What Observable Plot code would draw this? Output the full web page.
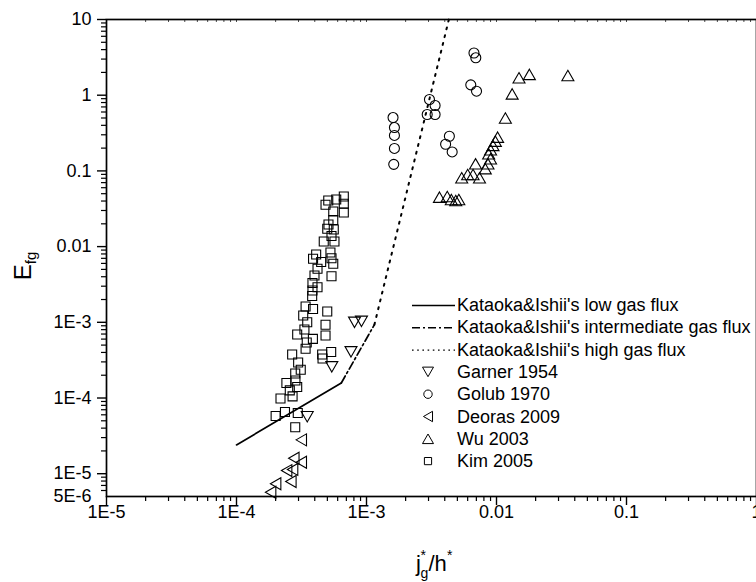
<!DOCTYPE html>
<html>
<head>
<meta charset="utf-8">
<script src="https://cdn.jsdelivr.net/npm/d3@7"></script>
<script src="https://cdn.jsdelivr.net/npm/@observablehq/plot@0.6"></script>
<style>
  html, body { margin: 0; padding: 0; background: #fff; }
  #chart { width: 756px; height: 582px; }
</style>
</head>
<body>
<div id="chart"></div>
<script>
// ---- Data ----
const garnerX = [8.09e-4, 9.15e-4, 7.6e-4, 5.41e-4, 3.50e-4];
const garnerY = [1.0e-3, 1.03e-3, 4.07e-4, 2.58e-4, 5.65e-5];

const golubX = [1.60e-3, 1.64e-3, 1.64e-3, 1.64e-3, 1.62e-3, 3.05e-3, 3.37e-3, 2.93e-3, 3.37e-3, 4.34e-3, 4.06e-3, 4.56e-3, 6.71e-3, 6.93e-3, 6.34e-3, 7.02e-3];
const golubY = [0.507, 0.374, 0.294, 0.198, 0.122, 0.877, 0.731, 0.556, 0.556, 0.287, 0.225, 0.178, 3.61, 3.12, 1.37, 1.13];

const deorasX = [3.15e-4, 2.76e-4, 3.15e-4, 2.43e-4, 2.70e-4, 2.62e-4, 2.0e-4, 1.83e-4];
const deorasY = [2.8e-5, 1.6e-5, 1.42e-5, 1.10e-5, 1.14e-5, 7.9e-6, 7.36e-6, 5.7e-6];

const wuX = [0.0354, 0.0179, 0.0149, 0.0132, 0.0117, 0.0102, 0.0098, 0.0094, 0.0090, 0.0087, 0.0090, 0.0086, 0.0082, 0.0069, 0.0060, 0.0054, 0.0066, 0.0074, 0.00364, 0.00418, 0.00449, 0.00486, 0.00513];
const wuY = [1.82, 1.88, 1.70, 1.04, 0.50, 0.279, 0.247, 0.217, 0.190, 0.168, 0.1445, 0.124, 0.107, 0.124, 0.0896, 0.0811, 0.0896, 0.0811, 0.045, 0.0459, 0.0419, 0.0406, 0.0419];

const kimX = [6.69e-4, 6.69e-4, 5.85e-4, 5.08e-4, 4.84e-4, 6.69e-4, 5.55e-4, 5.55e-4, 5.10e-4, 4.99e-4, 5.60e-4, 5.38e-4, 4.69e-4, 5.67e-4, 5.28e-4, 5.38e-4, 5.55e-4, 4.10e-4, 3.88e-4, 4.48e-4, 4.20e-4, 3.98e-4, 5.38e-4, 3.84e-4, 4.20e-4, 3.84e-4, 3.82e-4, 3.40e-4, 3.88e-4, 4.99e-4, 3.26e-4, 3.50e-4, 4.84e-4, 3.33e-4, 2.93e-4, 4.84e-4, 3.87e-4, 3.47e-4, 3.40e-4, 2.68e-4, 4.56e-4, 5.35e-4, 4.59e-4, 2.98e-4, 3.12e-4, 2.83e-4, 2.84e-4, 2.42e-4, 2.93e-4, 2.57e-4, 2.70e-4, 2.18e-4, 2.36e-4, 2.00e-4, 2.96e-4, 2.83e-4];
const kimY = [0.0459, 0.0368, 0.0419, 0.0406, 0.0357, 0.0282, 0.0291, 0.0225, 0.0196, 0.0172, 0.0168, 0.0138, 0.0117, 0.0117, 0.00836, 0.00703, 0.00593, 0.00787, 0.0069, 0.00626, 0.00509, 0.00415, 0.00406, 0.00331, 0.00291, 0.00263, 0.00223, 0.00162, 0.0015, 0.00139, 0.00123, 0.001, 9.27e-4, 8.03e-4, 6.90e-4, 6.69e-4, 6.05e-4, 5.41e-4, 4.47e-4, 3.75e-4, 3.75e-4, 4.05e-4, 3.33e-4, 2.94e-4, 2.36e-4, 2.11e-4, 1.70e-4, 1.58e-4, 1.40e-4, 1.26e-4, 1.05e-4, 9.85e-5, 6.53e-5, 5.78e-5, 6.34e-5, 4.11e-5];

// Kataoka & Ishii correlation segments (end points)
const lowX = [1e-4, 6.4e-4];   const lowY = [2.4e-5, 1.58e-4];
const midX = [6.4e-4, 1.15e-3]; const midY = [1.58e-4, 9.3e-4];
const highX = [1.15e-3, 4.3e-3]; const highY = [9.3e-4, 10];

// Axis ticks and labels
const xMajor = [1e-5, 1e-4, 1e-3, 1e-2, 1e-1, 1];
const xLabels = ["1E-5", "1E-4", "1E-3", "0.01", "0.1", "1"];
const yMajor = [1e-5, 1e-4, 1e-3, 1e-2, 1e-1, 1, 10];
const yLabels = ["1E-5", "1E-4", "1E-3", "0.01", "0.1", "1", "10"];
const yBottom = [5e-6];
const yBottomLabel = ["5E-6"];

const seriesNames = ["Kataoka&Ishii's low gas flux", "Kataoka&Ishii's intermediate gas flux", "Kataoka&Ishii's high gas flux", "Garner 1954", "Golub 1970", "Deoras 2009", "Wu 2003", "Kim 2005"];

// ---- Helpers ----
const FONT = "'Liberation Sans', Arial, Helvetica, sans-serif";
const zip = (xs, ys) => xs.map((x, i) => ({x, y: ys[i]}));
function sym(fn) { return {draw(ctx, size) { fn(ctx, Math.sqrt(size / Math.PI)); }}; }
const squareSym = sym((c, r) => { c.moveTo(-r, -r); c.lineTo(r, -r); c.lineTo(r, r); c.lineTo(-r, r); c.closePath(); });
const circleSym = sym((c, r) => { c.moveTo(r, 0); c.arc(0, 0, r, 0, 2 * Math.PI); c.closePath(); });
const upSym = sym((c, r) => { const h = r * 0.87; c.moveTo(0, -h); c.lineTo(r, h); c.lineTo(-r, h); c.closePath(); });
const downSym = sym((c, r) => { const h = r * 0.87; c.moveTo(0, h); c.lineTo(r, -h); c.lineTo(-r, -h); c.closePath(); });
const leftSym = sym((c, r) => { const h = r * 0.87; c.moveTo(-h, 0); c.lineTo(h, -r); c.lineTo(h, r); c.closePath(); });

const minor = (lo, hi) => {
  const out = [];
  for (let e = -6; e <= 1; e++) for (let m = 2; m <= 9; m++) {
    const v = m * Math.pow(10, e);
    if (v > lo * 1.0001 && v < hi * 0.9999) out.push(v);
  }
  return out;
};
const xMinor = minor(1e-5, 1);
const yMinor = minor(5e-6, 10);

const DASH_MID = "8,3,2,3";
const DASH_HIGH = "2,6";

const dotStyle = {x: "x", y: "y", stroke: "#000", fill: "none", strokeWidth: 1.1};
const frameH = 582 - 19 - 86;

const chart = Plot.plot({
  width: 756,
  height: 582,
  marginLeft: 106,
  marginRight: 0,
  marginTop: 19,
  marginBottom: 86,
  x: {type: "log", domain: [1e-5, 1]},
  y: {type: "log", domain: [5e-6, 10]},
  style: {fontFamily: FONT, fontSize: "18px", color: "#000", background: "#fff", overflow: "visible"},
  marks: [
    Plot.line(zip(lowX, lowY), {x: "x", y: "y", stroke: "#000", strokeWidth: 1.7}),
    Plot.line(zip(midX, midY), {x: "x", y: "y", stroke: "#000", strokeWidth: 1.7, strokeDasharray: DASH_MID}),
    Plot.line(zip(highX, highY), {x: "x", y: "y", stroke: "#000", strokeWidth: 2, strokeDasharray: DASH_HIGH}),
    Plot.dot(zip(garnerX, garnerY), {...dotStyle, symbol: downSym, r: 6}),
    Plot.dot(zip(golubX, golubY), {...dotStyle, symbol: circleSym, r: 5}),
    Plot.dot(zip(deorasX, deorasY), {...dotStyle, symbol: leftSym, r: 6}),
    Plot.dot(zip(wuX, wuY), {...dotStyle, symbol: upSym, r: 6}),
    Plot.dot(zip(kimX, kimY), {...dotStyle, symbol: squareSym, r: 4.5}),
    Plot.axisX({ticks: xMajor, tickFormat: d => xLabels[xMajor.indexOf(d)], tickSize: 9, tickPadding: 0, fontSize: 18, strokeWidth: 1.4, label: null}),
    Plot.axisX({ticks: xMinor, tickFormat: () => "", tickSize: 5, strokeWidth: 1.2, label: null}),
    Plot.tickX(xMajor.concat(xMinor), {x: d => d, insetBottom: frameH - 3, stroke: "#000", strokeWidth: 1, strokeOpacity: 0.7}),
    Plot.axisY({ticks: yMajor, tickFormat: d => yLabels[yMajor.indexOf(d)], tickSize: 9, tickPadding: 6, fontSize: 18, strokeWidth: 1.4, label: null}),
    Plot.axisY({ticks: yMinor, tickFormat: () => "", tickSize: 5, strokeWidth: 1.2, label: null}),
    Plot.text(yBottom, {y: d => d, text: (d, i) => yBottomLabel[i], frameAnchor: "left", dx: -15, textAnchor: "end", fontSize: 18, lineAnchor: "middle"}),
    Plot.frame({stroke: "#000", strokeWidth: 1.7})
  ]
});
document.getElementById("chart").appendChild(chart);

// ---- Axis titles with sub/superscripts ----
const svg = d3.select(chart);
const cx = (106 + 756) / 2 + 4;
const xt = svg.append("g").attr("font-family", FONT).attr("fill", "#000").attr("text-anchor", "start")
  .attr("transform", `translate(${cx},571)`);
xt.append("text").attr("x", -19).attr("font-size", 22).text("j");
xt.append("text").attr("x", -14.5).attr("y", -11).attr("font-size", 14).text("*");
xt.append("text").attr("x", -14.5).attr("y", 7).attr("font-size", 14).text("g");
xt.append("text").attr("x", -6.5).attr("font-size", 22).text("/h");
xt.append("text").attr("x", 12).attr("y", -11).attr("font-size", 14).text("*");

const yt = svg.append("text").attr("font-family", FONT).attr("fill", "#000")
  .attr("text-anchor", "middle").attr("transform", "translate(31,266) rotate(-90)");
yt.append("tspan").attr("font-size", 24).text("E");
yt.append("tspan").attr("font-size", 15).attr("dy", 5).text("fg");

// ---- Legend ----
const legendItems = [
  {kind: "line", dash: null},
  {kind: "line", dash: DASH_MID},
  {kind: "line", dash: "1.6,3.6"},
  {kind: "sym", s: downSym, r: 5.5},
  {kind: "sym", s: circleSym, r: 4.2},
  {kind: "sym", s: leftSym, r: 5.2},
  {kind: "sym", s: upSym, r: 5.5},
  {kind: "sym", s: squareSym, r: 3.6}
];
const lg = svg.append("g").attr("font-family", FONT).attr("font-size", 18).attr("fill", "#000").attr("text-anchor", "start");
legendItems.forEach((d, i) => {
  const by = 311 + i * 22.3;
  if (d.kind === "line") {
    lg.append("line").attr("x1", 412).attr("x2", 455).attr("y1", by - 5.5).attr("y2", by - 5.5)
      .attr("stroke", "#000").attr("stroke-width", 1.4).attr("stroke-dasharray", d.dash);
  } else {
    const p = d3.path();
    d.s.draw(p, d.r * d.r * Math.PI);
    lg.append("path").attr("d", p.toString()).attr("transform", `translate(428,${by - 6})`)
      .attr("fill", "none").attr("stroke", "#000").attr("stroke-width", 1);
  }
  lg.append("text").attr("x", 457).attr("y", by).text(seriesNames[i]);
});
</script>
</body>
</html>
